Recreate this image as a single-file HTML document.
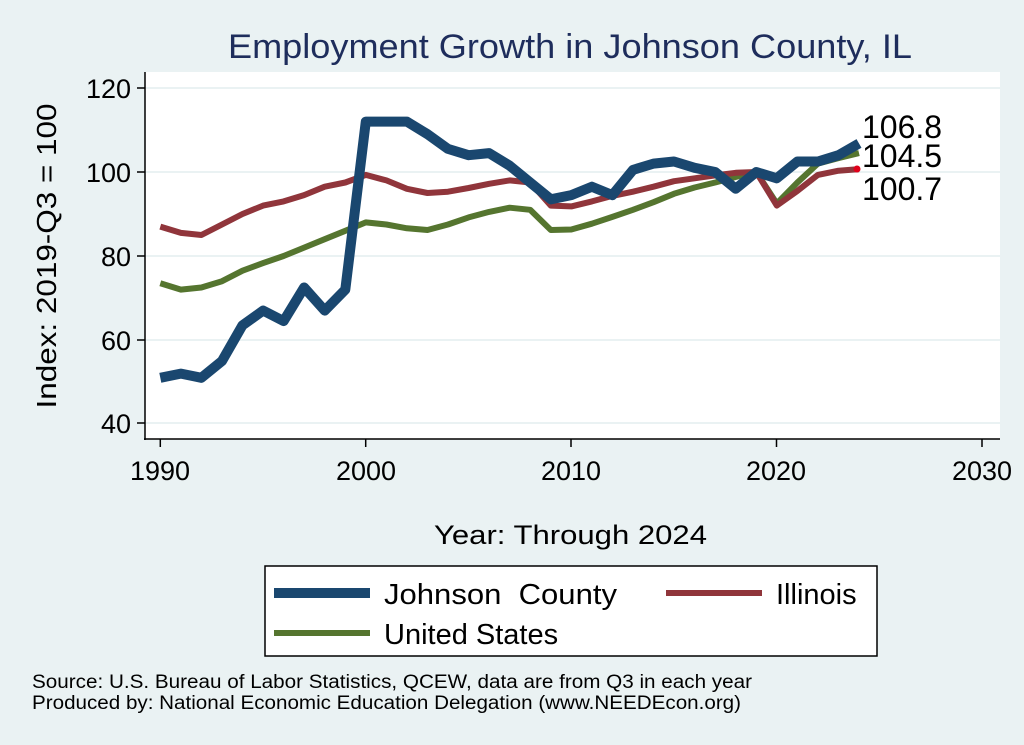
<!DOCTYPE html>
<html><head><style>body{margin:0;background:#eaf2f3;}svg{display:block;font-family:"Liberation Sans",Arial,sans-serif;}</style></head><body>
<svg width="1024" height="745" xmlns="http://www.w3.org/2000/svg">
<rect width="1024" height="745" fill="#eaf2f3"/>
<text x="228" y="58" font-size="34" fill="#1e2d5c" textLength="684" lengthAdjust="spacingAndGlyphs">Employment Growth in Johnson County, IL</text>
<rect x="145" y="72" width="855" height="367" fill="#fff"/>
<g stroke="#eaf2f3" stroke-width="2">
<line x1="145" x2="1000" y1="88" y2="88"/><line x1="145" x2="1000" y1="172" y2="172"/><line x1="145" x2="1000" y1="256" y2="256"/><line x1="145" x2="1000" y1="340" y2="340"/><line x1="145" x2="1000" y1="423" y2="423"/></g>
<g stroke="#000" stroke-width="1.5">
<line x1="145" y1="72" x2="145" y2="440"/><line x1="144" y1="439" x2="1000" y2="439"/>
<line x1="137" x2="145" y1="88" y2="88"/><line x1="137" x2="145" y1="172" y2="172"/><line x1="137" x2="145" y1="256" y2="256"/><line x1="137" x2="145" y1="340" y2="340"/><line x1="137" x2="145" y1="423" y2="423"/>
<line x1="160.3" x2="160.3" y1="439" y2="447"/><line x1="365.7" x2="365.7" y1="439" y2="447"/><line x1="571" x2="571" y1="439" y2="447"/><line x1="776.5" x2="776.5" y1="439" y2="447"/><line x1="982" x2="982" y1="439" y2="447"/>
</g>
<g font-size="27" text-anchor="end" fill="#000">
<text x="131" y="98">120</text><text x="131" y="182">100</text><text x="131" y="266">80</text><text x="131" y="350">60</text><text x="131" y="433">40</text></g>
<g font-size="27" text-anchor="middle">
<text x="160" y="480">1990</text><text x="366" y="480">2000</text><text x="571" y="480">2010</text><text x="776" y="480">2020</text><text x="982" y="480">2030</text></g>
<text transform="translate(56,256) rotate(-90)" font-size="28" text-anchor="middle" textLength="305" lengthAdjust="spacingAndGlyphs">Index: 2019-Q3 = 100</text>
<text x="434" y="544" font-size="27" textLength="273" lengthAdjust="spacingAndGlyphs">Year: Through 2024</text>
<g fill="none" stroke-linejoin="round">
<polyline id="us" stroke="#55752f" stroke-width="6" points=""/>
<polyline id="il" stroke="#90353b" stroke-width="6" points=""/>
<polyline id="jc" stroke="#1a476f" stroke-width="10" points=""/>
</g>
<circle cx="857.0" cy="169" r="3.5" fill="#e0001a"/>
<g font-size="32"><text x="862" y="138">106.8</text><text x="862" y="167">104.5</text><text x="862" y="200">100.7</text></g>
<rect x="265" y="566" width="612" height="90" fill="#fff" stroke="#000" stroke-width="1.5"/>
<line x1="274" x2="370" y1="593" y2="593" stroke="#1a476f" stroke-width="10"/>
<text x="384" y="604" font-size="29" textLength="233" lengthAdjust="spacingAndGlyphs" xml:space="preserve">Johnson  County</text>
<line x1="666" x2="762" y1="593" y2="593" stroke="#90353b" stroke-width="6"/>
<text x="776" y="604" font-size="29">Illinois</text>
<line x1="274" x2="370" y1="633" y2="633" stroke="#55752f" stroke-width="6"/>
<text x="384" y="644" font-size="29">United States</text>
<text x="32" y="688" font-size="19" textLength="720" lengthAdjust="spacingAndGlyphs">Source: U.S. Bureau of Labor Statistics, QCEW, data are from Q3 in each year</text>
<text x="32" y="709" font-size="19" textLength="709" lengthAdjust="spacingAndGlyphs">Produced by: National Economic Education Delegation (www.NEEDEcon.org)</text>
<script>
function pts(a){return a.map((v,i)=>(160.3+i*20.55).toFixed(1)+","+(172-(v-100)*4.2).toFixed(1)).join(" ");}
document.getElementById("jc").setAttribute("points",pts([51,52,51,55,63.5,67,64.5,72.5,67,72,112,112,112,109,105.5,104,104.5,101.5,97.5,93.5,94.5,96.5,94.5,100.5,102,102.5,101,100,96,100,98.5,102.5,102.5,104,106.8]));
document.getElementById("il").setAttribute("points",pts([87,85.5,85,87.5,90,92,93,94.5,96.5,97.5,99.3,98,96,95,95.3,96.2,97.2,98,97.5,92,91.8,93,94.3,95.3,96.5,97.8,98.5,99.2,99.8,100,92,95.5,99.3,100.3,100.7]));
document.getElementById("us").setAttribute("points",pts([73.5,72,72.5,74,76.5,78.3,80,82,84,86,88,87.5,86.6,86.2,87.5,89.2,90.5,91.5,91,86.2,86.3,87.7,89.3,91,92.8,94.8,96.3,97.5,98.8,100,92.5,97.5,102,103.3,104.5]));
</script>
</svg>
</body></html>
